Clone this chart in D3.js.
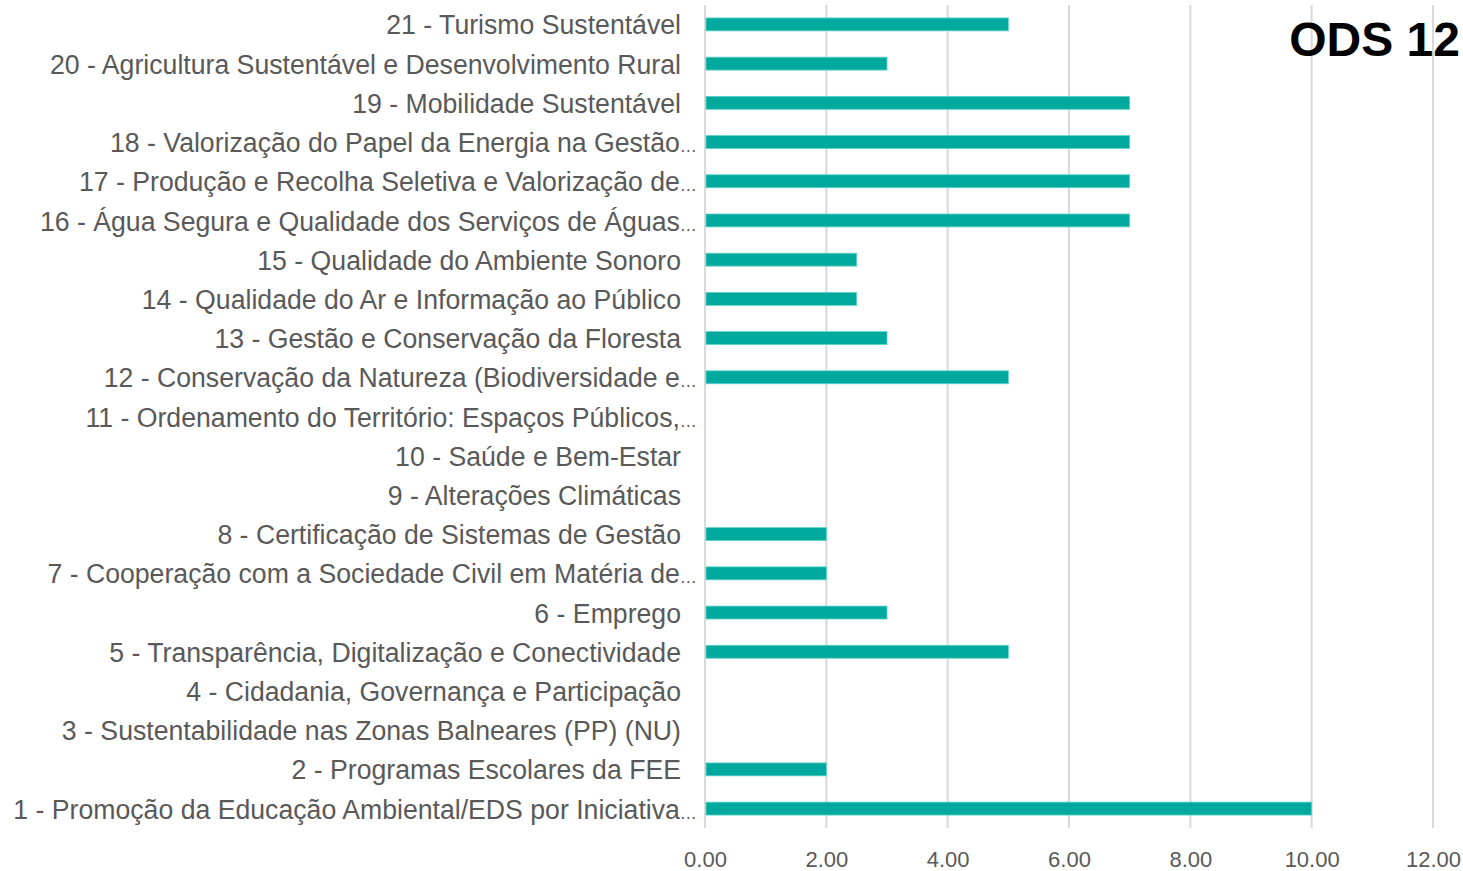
<!DOCTYPE html>
<html><head><meta charset="utf-8">
<script src="https://cdn.jsdelivr.net/npm/d3@7"></script>
<style>
body{margin:0;background:#fff;}
svg{display:block;}
</style></head>
<body>
<svg id="chart" width="1463" height="871"></svg>
<script>
const categories = [
  "21 - Turismo Sustentável",
  "20 - Agricultura Sustentável e Desenvolvimento Rural",
  "19 - Mobilidade Sustentável",
  "18 - Valorização do Papel da Energia na Gestão…",
  "17 - Produção e Recolha Seletiva e Valorização de…",
  "16 - Água Segura e Qualidade dos Serviços de Águas…",
  "15 - Qualidade do Ambiente Sonoro",
  "14 - Qualidade do Ar e Informação ao Público",
  "13 - Gestão e Conservação da Floresta",
  "12 - Conservação da Natureza (Biodiversidade e…",
  "11 - Ordenamento do Território: Espaços Públicos,…",
  "10 - Saúde e Bem-Estar",
  "9 - Alterações Climáticas",
  "8 - Certificação de Sistemas de Gestão",
  "7 - Cooperação com a Sociedade Civil em Matéria de…",
  "6 - Emprego",
  "5 - Transparência, Digitalização e Conectividade",
  "4 - Cidadania, Governança e Participação",
  "3 - Sustentabilidade nas Zonas Balneares (PP) (NU)",
  "2 - Programas Escolares da FEE",
  "1 - Promoção da Educação Ambiental/EDS por Iniciativa…"
];
const values = [5, 3, 7, 7, 7, 7, 2.5, 2.5, 3, 5, 0, 0, 0, 2, 2, 3, 5, 0, 0, 2, 10];
const tickValues = [0, 2, 4, 6, 8, 10, 12];
const title = "ODS 12";

const svg = d3.select("#chart");
const font = "'Liberation Sans', Arial, sans-serif";
const x0 = 705, x1 = 1433, yTop = 5, yBot = 828;

const x = d3.scaleLinear().domain([0, 12]).range([x0, x1]);
const y = d3.scaleBand().domain(categories).range([yTop, yBot]).paddingInner(0.67).paddingOuter(0.33);

// gridlines
svg.append("g").selectAll("line").data(tickValues).join("line")
  .attr("x1", d => x(d)).attr("x2", d => x(d))
  .attr("y1", yTop).attr("y2", yBot)
  .attr("stroke", "#d9d9d9").attr("stroke-width", 2);

// bars
svg.append("g").selectAll("rect").data(categories.map((c, i) => ({c, v: values[i]})).filter(d => d.v > 0)).join("rect")
  .attr("x", x(0)+1).attr("y", d => y(d.c))
  .attr("width", d => x(d.v) - x(0) - 1).attr("height", y.bandwidth())
  .attr("fill", "#00A99D").attr("stroke", "#5fd3cb").attr("stroke-width", 0.8);

// category labels
const labels = svg.append("g").selectAll("text").data(categories).join("text")
  .attr("transform", d => `translate(${d.endsWith("…") ? 697 : 681},${y(d) + y.bandwidth() / 2}) scale(0.952,1)`)
  .attr("dy", "0.36em")
  .attr("text-anchor", "end")
  .attr("font-family", font).attr("font-size", 28)
  .attr("fill", "#595959");
labels.each(function(d) {
  const t = d3.select(this);
  if (d.endsWith("…")) {
    t.append("tspan").text(d.slice(0, -1));
    t.append("tspan").attr("font-size", 18).text("…");
  } else {
    t.text(d);
  }
});

// x axis tick labels
const axis = svg.append("g").attr("transform", `translate(0,${yBot})`)
  .call(d3.axisBottom(x).tickValues(tickValues).tickFormat(d3.format(".2f")).tickSize(0).tickPadding(23));
axis.select(".domain").remove();
axis.selectAll("text").attr("font-family", font).attr("font-size", 22).attr("fill", "#595959");

// title
svg.append("text").attr("x", 1460).attr("y", 56).attr("text-anchor", "end")
  .attr("font-family", font).attr("font-weight", "bold")
  .attr("font-size", 48).attr("fill", "#000").text(title);
</script>
</body></html>
